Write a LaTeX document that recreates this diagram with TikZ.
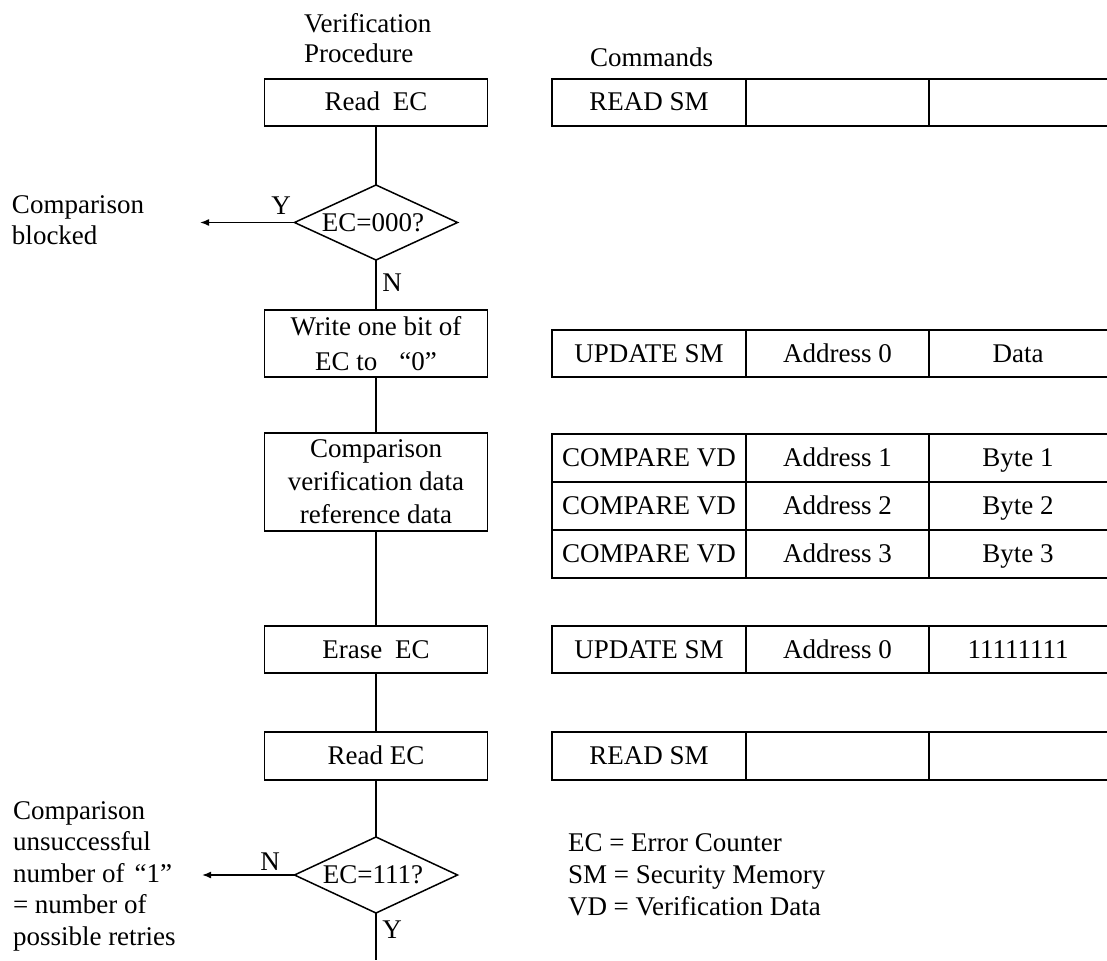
\documentclass[tikz,border=0pt]{standalone}
\usepackage{fontspec}
\setmainfont{Liberation Serif}
\usetikzlibrary{shapes.geometric,arrows.meta}
\begin{document}
\begin{tikzpicture}[x=1pt,y=-1pt,
  every node/.style={font=\fontsize{27}{32}\selectfont, inner sep=0pt, outer sep=0pt},
  box/.style={draw, line width=1.8pt, minimum width=223pt, align=center},
  onel/.style={text height=19pt, text depth=2pt},
  dec/.style={draw, diamond, line width=1.5pt, minimum width=163pt, minimum height=75pt},
  cellA/.style={draw, line width=1.9pt, minimum width=194pt, minimum height=47pt, text height=19pt, text depth=2pt},
  cellB/.style={draw, line width=1.9pt, minimum width=183pt, minimum height=47pt, text height=19pt, text depth=2pt},
  cellC/.style={minimum width=178pt, minimum height=47pt, text height=19pt, text depth=2pt},
  tline/.style={line width=1.9pt},
  flow/.style={line width=1.8pt},
  arr/.style={line width=1.6pt, -{Latex[length=9pt,width=7pt]}},
  lbl/.style={align=left, anchor=west, font=\fontsize{27}{32}\selectfont}
]
\useasboundingbox (0,0) rectangle (1107,960);

% headers
\node[lbl, font=\fontsize{27}{30}\selectfont] (hdr1) at (304,38) {Verification\\Procedure};
\node[lbl] (hdr2) at (590,57) {Commands};

% left flow
\node[box, onel, minimum height=47pt] (r1) at (376,102.5) {Read\hspace{6pt} EC};
\node[dec] (d1) at (376,222.5) {};
\node[onel] (d1t) at (373,222.5) {EC=000?};
\node[box, minimum height=67pt, font=\fontsize{27}{35}\selectfont] (w) at (376,343.5) {Write one bit of\\EC to\hspace{22pt}“0”};
\node[box, minimum height=98pt, font=\fontsize{27}{33}\selectfont] (cmp) at (376,482) {Comparison\\verification data\\reference data};
\node[box, onel, minimum height=47pt] (er) at (376,649.5) {Erase\hspace{6pt} EC};
\node[box, onel, minimum height=48pt] (r2) at (376,756) {Read EC};
\node[dec, minimum height=76pt] (d2) at (376,875) {};
\node[onel] (d2t) at (373,875) {EC=111?};
\coordinate (endb) at (376,960);

\draw[flow] (r1) -- (d1);
\draw[flow] (d1) -- (w);
\draw[flow] (w) -- (cmp);
\draw[flow] (cmp) -- (er);
\draw[flow] (er) -- (r2);
\draw[flow] (r2) -- (d2);
\draw[flow] (d2) -- (endb);

% exits
\node[lbl, font=\fontsize{27}{31}\selectfont] (blk) at (12,220) {Comparison\\blocked};
\coordinate (blkend) at (200,222.5);
\draw[arr] (d1.west) -- (blkend);
\node (y1) at (281,206) {Y};
\node (n1) at (392,283) {N};

\node[lbl, font=\fontsize{27}{31.5}\selectfont] (uns) at (13,876) {Comparison\\unsuccessful\\number of\hspace{10pt}“1”\\= number of\\possible retries};
\coordinate (unsend) at (202,875);
\draw[arr] (d2.west) -- (unsend);
\node (n2) at (270,862) {N};
\node (y2) at (392,930) {Y};

% command tables
% row 1: READ SM
\node[cellA] (t1a) at (649,102.5) {READ SM};
\node[cellB] (t1b) at (837.5,102.5) {};
\node[cellC] (t1c) at (1018,102.5) {};
\draw[tline] (t1c.north east) -- (t1c.north west) -- (t1c.south west) -- (t1c.south east);

% row 2: UPDATE SM
\node[cellA] (t2a) at (649,353.5) {UPDATE SM};
\node[cellB] (t2b) at (837.5,353.5) {Address 0};
\node[cellC] (t2c) at (1018,353.5) {Data};
\draw[tline] (t2c.north east) -- (t2c.north west) -- (t2c.south west) -- (t2c.south east);

% compare rows
\node[cellA, minimum height=48pt] (t3a) at (649,458) {COMPARE VD};
\node[cellB, minimum height=48pt] (t3b) at (837.5,458) {Address 1};
\node[cellC, minimum height=48pt] (t3c) at (1018,458) {Byte 1};
\node[cellA, minimum height=48pt] (t4a) at (649,506) {COMPARE VD};
\node[cellB, minimum height=48pt] (t4b) at (837.5,506) {Address 2};
\node[cellC, minimum height=48pt] (t4c) at (1018,506) {Byte 2};
\node[cellA, minimum height=48pt] (t5a) at (649,554) {COMPARE VD};
\node[cellB, minimum height=48pt] (t5b) at (837.5,554) {Address 3};
\node[cellC, minimum height=48pt] (t5c) at (1018,554) {Byte 3};
\draw[tline] (t3c.north east) -- (t3c.north west) -- (t5c.south west) -- (t5c.south east);
\draw[tline] (t4c.north west) -- (t4c.north east);
\draw[tline] (t5c.north west) -- (t5c.north east);

% erase row
\node[cellA] (t6a) at (649,649.5) {UPDATE SM};
\node[cellB] (t6b) at (837.5,649.5) {Address 0};
\node[cellC] (t6c) at (1018,649.5) {11111111};
\draw[tline] (t6c.north east) -- (t6c.north west) -- (t6c.south west) -- (t6c.south east);

% read row
\node[cellA, minimum height=48pt] (t7a) at (649,756) {READ SM};
\node[cellB, minimum height=48pt] (t7b) at (837.5,756) {};
\node[cellC, minimum height=48pt] (t7c) at (1018,756) {};
\draw[tline] (t7c.north east) -- (t7c.north west) -- (t7c.south west) -- (t7c.south east);

% legend
\node[lbl, font=\fontsize{27}{32}\selectfont] (leg) at (568,875) {EC = Error Counter\\SM = Security Memory\\VD = Verification Data};
\end{tikzpicture}
\end{document}
